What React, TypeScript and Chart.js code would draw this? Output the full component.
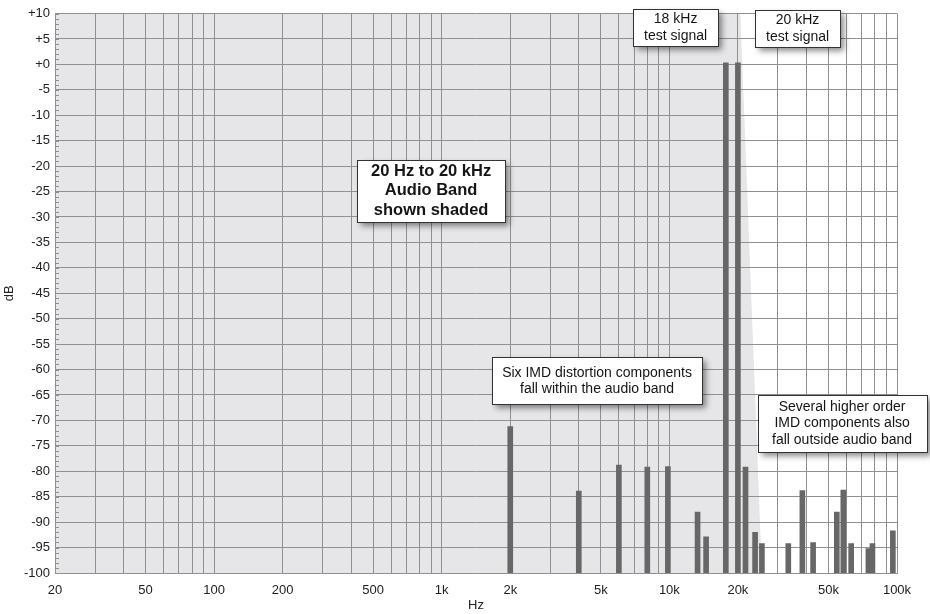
import React, { useEffect, useRef } from 'react';
import { Chart, registerables } from 'chart.js';

Chart.register(...registerables);

// IMD spectrum components (Hz) and their levels (dB)
const componentFreqs = [2000, 4000, 6000, 8000, 9850, 13300, 14500, 17700, 20000, 21600, 23800, 25500, 33300, 38400, 42800, 54400, 58100, 62900, 74900, 78000, 95900];
const componentLevels = [-71.2, -83.9, -78.8, -79.2, -79.1, -88, -92.9, 0.3, 0.3, -79.2, -92, -94.2, -94.2, -83.8, -94, -88, -83.7, -94.2, -95.2, -94.2, -91.7];

// x grid lines and labels
const xGridValues = [20, 30, 40, 50, 60, 70, 80, 90, 100, 200, 300, 400, 500, 600, 700, 800, 900, 1000, 2000, 3000, 4000, 5000, 6000, 7000, 8000, 9000, 10000, 20000, 30000, 40000, 50000, 60000, 70000, 80000, 90000, 100000];
const xLabelValues = [20, 50, 100, 200, 500, 1000, 2000, 5000, 10000, 20000, 50000, 100000];
const xLabelTexts = ['20', '50', '100', '200', '500', '1k', '2k', '5k', '10k', '20k', '50k', '100k'];

// shaded audio band outline (Hz, dB)
const bandFreqs = [20, 20500, 25500, 20];
const bandLevels = [10, 10, -100, -100];

const FONT = '"Liberation Sans", Arial, Helvetica, sans-serif';

const annotations = [
  { lines: ['18 kHz', 'test signal'], f: 10650, db: 7.15, w: 85, h: 37, size: 14, bold: false, lh: 17 },
  { lines: ['20 kHz', 'test signal'], f: 36580, db: 7.1, w: 85, h: 37, size: 14, bold: false, lh: 17 },
  { lines: ['20 Hz to 20 kHz', 'Audio Band', 'shown shaded'], f: 898, db: -24.8, w: 148, h: 62, size: 16.5, bold: true, lh: 19.5 },
  { lines: ['Six IMD distortion components', 'fall within the audio band'], f: 4812, db: -62.2, w: 210, h: 47, size: 14, bold: false, lh: 16 },
  { lines: ['Several higher order', 'IMD components also', 'fall outside audio band'], f: 57380, db: -70.6, w: 169, h: 57, size: 14, bold: false, lh: 16.5 },
];

const GRID = '#909090';

const bgPlugin = {
  id: 'bgShade',
  beforeDraw(chart: any) {
    const { ctx, scales } = chart;
    const x = scales.x, y = scales.y;
    ctx.save();
    ctx.fillStyle = '#ffffff';
    ctx.fillRect(0, 0, chart.width, chart.height);
    ctx.fillStyle = '#e6e6e8';
    ctx.beginPath();
    bandFreqs.forEach((f, i) => {
      const px = x.getPixelForValue(f);
      const py = y.getPixelForValue(bandLevels[i]);
      if (i === 0) ctx.moveTo(px, py); else ctx.lineTo(px, py);
    });
    ctx.closePath();
    ctx.fill();
    ctx.restore();
  },
};

const overlayPlugin = {
  id: 'overlay',
  afterDraw(chart: any) {
    const { ctx, scales, chartArea } = chart;
    const x = scales.x, y = scales.y;
    ctx.save();
    // minor ticks on the left edge
    ctx.strokeStyle = GRID;
    ctx.lineWidth = 1;
    ctx.beginPath();
    for (let d = -100; d <= 10; d += 1) {
      const py = Math.round(y.getPixelForValue(d)) + 0.5;
      ctx.moveTo(chartArea.left, py);
      ctx.lineTo(chartArea.left + 4, py);
    }
    ctx.stroke();

    // annotation boxes
    annotations.forEach((a) => {
      const cx = x.getPixelForValue(a.f);
      const cy = y.getPixelForValue(a.db);
      const l = Math.round(cx - a.w / 2) + 0.5;
      const t = Math.round(cy - a.h / 2) + 0.5;
      ctx.save();
      ctx.shadowColor = 'rgba(0,0,0,0.45)';
      ctx.shadowBlur = 6;
      ctx.shadowOffsetX = 3;
      ctx.shadowOffsetY = 3;
      ctx.fillStyle = '#ffffff';
      ctx.fillRect(l, t, a.w, a.h);
      ctx.restore();
      ctx.strokeStyle = '#333333';
      ctx.lineWidth = 1;
      ctx.strokeRect(l, t, a.w, a.h);
      ctx.fillStyle = '#151515';
      ctx.font = `${a.bold ? 'bold ' : ''}${a.size}px ${FONT}`;
      ctx.textAlign = 'center';
      ctx.textBaseline = 'middle';
      const n = a.lines.length;
      a.lines.forEach((line, i) => {
        const ly = cy + (i - (n - 1) / 2) * a.lh;
        ctx.fillText(line, cx, ly);
      });
    });
    ctx.restore();
  },
};

export default function App() {
  const canvasRef = useRef<HTMLCanvasElement | null>(null);

  useEffect(() => {
    document.body.style.margin = '0';
    const canvas = canvasRef.current;
    if (!canvas) return;
    const data = componentFreqs.map((f, i) => ({ x: f, y: [-100, componentLevels[i]] }));
    const chart = new Chart(canvas, {
      type: 'bar',
      data: {
        datasets: [
          {
            data: data as any,
            backgroundColor: '#676767',
            borderWidth: 0,
            barThickness: 5,
            grouped: false,
          } as any,
        ],
      },
      options: {
        responsive: false,
        animation: false,
        devicePixelRatio: 1,
        layout: { padding: { top: 13.5, right: 33, left: 0, bottom: 0 } },
        plugins: {
          legend: { display: false },
          tooltip: { enabled: false },
        },
        scales: {
          x: {
            type: 'logarithmic',
            min: 20,
            max: 100000,
            offset: false,
            afterBuildTicks: (scale: any) => {
              scale.ticks = xGridValues.map((v) => ({ value: v }));
            },
            afterFit: (scale: any) => {
              scale.height = 41;
            },
            grid: { color: GRID, lineWidth: 1, drawTicks: false, offset: false },
            border: { display: true, color: GRID },
            ticks: {
              autoSkip: false,
              maxRotation: 0,
              padding: 10,
              color: '#222',
              font: { family: FONT, size: 13 },
              callback: (value: any) => {
                const idx = xLabelValues.indexOf(Number(value));
                return idx >= 0 ? xLabelTexts[idx] : '';
              },
            },
            title: {
              display: true,
              text: 'Hz',
              color: '#222',
              font: { family: FONT, size: 13 },
              padding: { top: 0, bottom: 1 },
            },
          },
          y: {
            type: 'linear',
            min: -100,
            max: 10,
            afterFit: (scale: any) => {
              scale.width = 55;
            },
            grid: { color: GRID, lineWidth: 1, drawTicks: false },
            border: { display: true, color: GRID },
            ticks: {
              stepSize: 5,
              padding: 5,
              color: '#222',
              font: { family: FONT, size: 13 },
              callback: (value: any) => (Number(value) >= 0 ? '+' + value : String(value)),
            },
            title: {
              display: true,
              text: 'dB',
              color: '#222',
              font: { family: FONT, size: 13 },
              padding: { top: 2, bottom: 0 },
            },
          },
        },
      },
      plugins: [bgPlugin, overlayPlugin],
    });
    return () => chart.destroy();
  }, []);

  return (
    <div style={{ width: 930, height: 614 }}>
      <canvas ref={canvasRef} width={930} height={614} style={{ display: 'block' }} />
    </div>
  );
}
